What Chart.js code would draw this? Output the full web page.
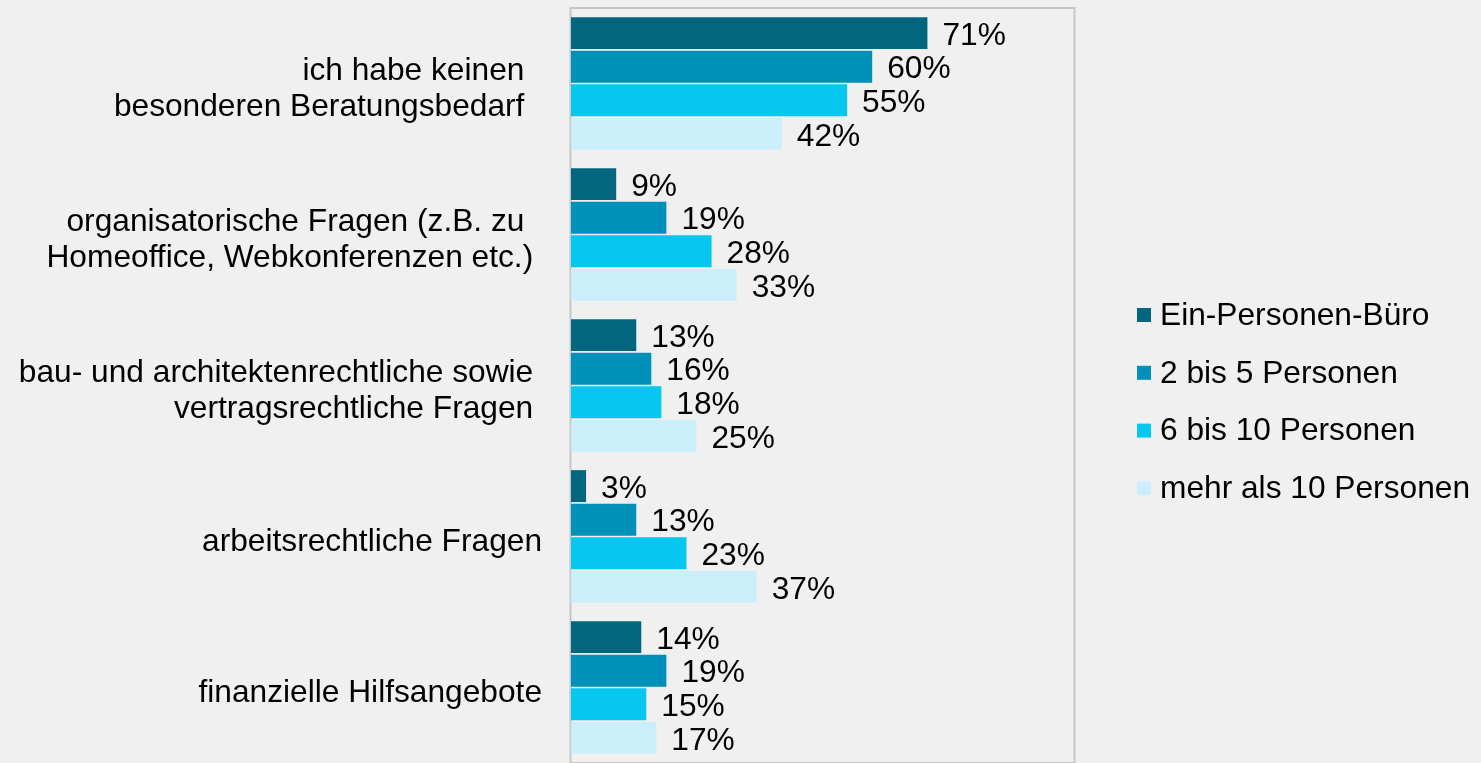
<!DOCTYPE html>
<html>
<head>
<meta charset="utf-8">
<script src="https://cdn.jsdelivr.net/npm/chart.js@4.4.1/dist/chart.umd.min.js"></script>
<style>
    html, body { margin: 0; padding: 0; background: #f0f0f0; }
    #wrap { width: 1481px; height: 763px; position: relative; }
</style>
</head>
<body>
<div id="wrap"><canvas id="chartBedarf"></canvas></div>
<script>
// ----------------- DADOS -----------------
const kategorien = [
    ["ich habe keinen  ", "besonderen Beratungsbedarf  "],
    ["organisatorische Fragen (z.B. zu  ", "Homeoffice, Webkonferenzen etc.) "],
    ["bau- und architektenrechtliche sowie ", "vertragsrechtliche Fragen "],
    "arbeitsrechtliche Fragen",
    "finanzielle Hilfsangebote"
];
const serien = ["Ein-Personen-Büro", "2 bis 5 Personen", "6 bis 10 Personen", "mehr als 10 Personen"];
const einPersonen = [71, 9, 13, 3, 14];
const zweiBisFuenf = [60, 19, 16, 13, 19];
const sechsBisZehn = [55, 28, 18, 23, 15];
const mehrAlsZehn = [42, 33, 25, 37, 17];
const farben = ["#02667f", "#0091ba", "#05c7f0", "#cbeffa"];

const FONT = '"Liberation Sans", Arial, sans-serif';
const FS = 31.7;

// borda da área do gráfico
const rahmenPlugin = {
    id: "rahmen",
    beforeDatasetsDraw(chart) {
        const { ctx, chartArea: a } = chart;
        ctx.save();
        ctx.strokeStyle = "#c6c6c6";
        ctx.lineWidth = 2;
        ctx.strokeRect(a.left - 0.5, a.top, a.right - a.left + 2, a.bottom - a.top);
        ctx.restore();
    }
};

// rótulos de valor ao lado das barras
const wertePlugin = {
    id: "werte",
    afterDatasetsDraw(chart) {
        const { ctx } = chart;
        ctx.save();
        ctx.font = `${FS}px ${FONT}`;
        ctx.fillStyle = "#000";
        ctx.textAlign = "left";
        ctx.textBaseline = "middle";
        chart.data.datasets.forEach((ds, i) => {
            chart.getDatasetMeta(i).data.forEach((bar, j) => {
                ctx.fillText(ds.data[j] + "%", bar.x + 15, bar.y + 3);
            });
        });
        ctx.restore();
    }
};

// legenda à direita
const legendePlugin = {
    id: "legende",
    afterDraw(chart) {
        const { ctx } = chart;
        ctx.save();
        ctx.font = `${FS}px ${FONT}`;
        ctx.textAlign = "left";
        ctx.textBaseline = "middle";
        chart.data.datasets.forEach((ds, i) => {
            const y = 315 + i * 57.8;
            ctx.fillStyle = ds.backgroundColor;
            ctx.fillRect(1137, y - 7, 14, 14);
            ctx.fillStyle = "#000";
            ctx.fillText(ds.label, 1160, y + 1);
        });
        ctx.restore();
    }
};

const reihen = [einPersonen, zweiBisFuenf, sechsBisZehn, mehrAlsZehn];

new Chart(document.getElementById("chartBedarf"), {
    type: "bar",
    data: {
        labels: kategorien,
        datasets: reihen.map((werte, i) => ({
            label: serien[i],
            data: werte,
            backgroundColor: farben[i],
            borderWidth: 0,
            categoryPercentage: 0.89,
            barPercentage: 0.95
        }))
    },
    options: {
        indexAxis: "y",
        responsive: true,
        maintainAspectRatio: false,
        animation: false,
        layout: { padding: { top: 8, right: 408, bottom: 0, left: 0 } },
        plugins: { legend: { display: false }, tooltip: { enabled: false } },
        scales: {
            x: { display: false, min: 0, max: 100 },
            y: {
                grid: { display: false, drawTicks: false },
                border: { display: false },
                ticks: {
                    color: "#000",
                    font: { family: FONT, size: FS, lineHeight: 1.15 },
                    padding: 29,
                    labelOffset: 6,
                    autoSkip: false
                },
                afterFit: scale => {
                    scale.width = 571;
                    scale.paddingTop = 0;
                    scale.paddingBottom = 0;
                }
            }
        }
    },
    plugins: [rahmenPlugin, wertePlugin, legendePlugin]
});
</script>
</body>
</html>
